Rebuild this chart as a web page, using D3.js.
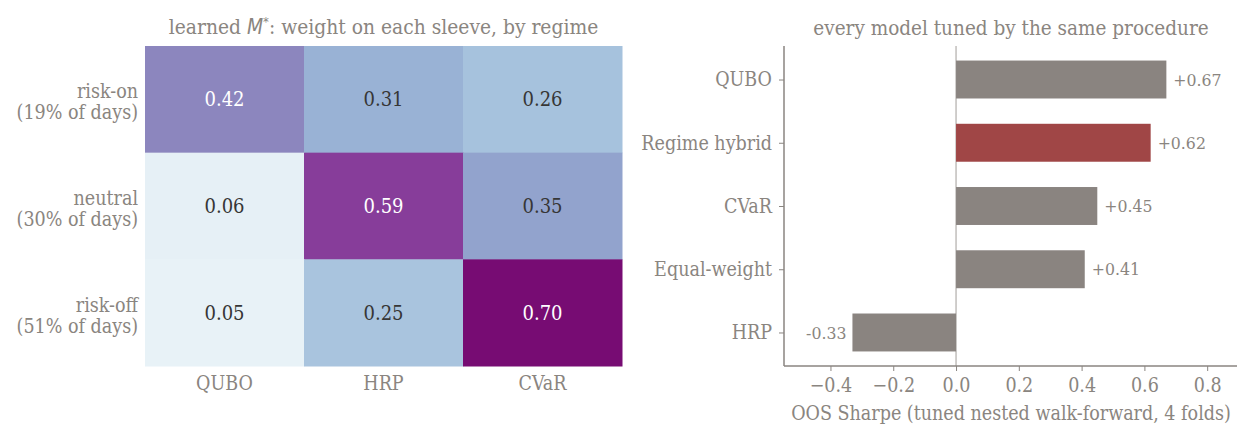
<!DOCTYPE html>
<html>
<head>
  <meta charset="utf-8">
  <style>
    body {
      margin: 0;
      padding: 0;
      background: #fff;
    }
    svg text { font-family: "DejaVu Serif Condensed", "DejaVu Serif", serif; font-stretch: condensed; }
  </style>
</head>
<body>
  <div id="chart"></div>

  <script src="https://cdnjs.cloudflare.com/ajax/libs/d3/7.8.5/d3.min.js"></script>
  <script>
    // heatmap data
    const regimes = ['risk-on', 'neutral', 'risk-off'];
    const regimeShare = ['19%', '30%', '51%'];
    const sleeves = ['QUBO', 'HRP', 'CVaR'];
    const weights = [
      [0.42, 0.31, 0.26],
      [0.06, 0.59, 0.35],
      [0.05, 0.25, 0.70]
    ];

    // bar chart data
    const models = ['QUBO', 'Regime hybrid', 'CVaR', 'Equal-weight', 'HRP'];
    const sharpe = [0.67, 0.62, 0.45, 0.41, -0.33];
    const xTicks = [-0.4, -0.2, 0.0, 0.2, 0.4, 0.6, 0.8];

    const grey = '#8a8580';
    const tickFont = '19.5px';
    const titleFont = '20.5px';
    const W = 1252, H = 437;

    const svg = d3.select('#chart')
      .append('svg')
      .attr('width', W)
      .attr('height', H);

    // ---- left panel: heatmap ----
    const hm = { left: 145, right: 622, top: 46, bottom: 366 };

    const xBand = d3.scaleBand()
      .domain(sleeves)
      .range([hm.left, hm.right]);

    const yBand = d3.scaleBand()
      .domain(regimes)
      .range([hm.top, hm.bottom]);

    // BuPu with straight segments between the colorbrewer stops
    const bupu = ['#f7fcfd', '#e0ecf4', '#bfd3e6', '#9ebcda', '#8c96c6',
                  '#8c6bb1', '#88419d', '#810f7c', '#4d004b'];
    const vmin = -0.013, vmax = 0.78;
    const color = d3.scaleLinear()
      .domain(bupu.map((c, i) => vmin + (vmax - vmin) * i / (bupu.length - 1)))
      .range(bupu)
      .interpolate(d3.interpolateRgb)
      .clamp(true);

    const cells = [];
    regimes.forEach((r, i) => sleeves.forEach((s, j) => {
      cells.push({ r, s, v: weights[i][j] });
    }));

    const left = svg.append('g');

    left.selectAll('rect.cell')
      .data(cells)
      .enter()
      .append('rect')
      .attr('class', 'cell')
      .attr('x', d => xBand(d.s))
      .attr('y', d => yBand(d.r))
      .attr('width', xBand.bandwidth() + 0.5)
      .attr('height', yBand.bandwidth() + 0.5)
      .attr('fill', d => color(d.v));

    left.selectAll('text.val')
      .data(cells)
      .enter()
      .append('text')
      .attr('class', 'val')
      .attr('x', d => xBand(d.s) + xBand.bandwidth() / 2)
      .attr('y', d => yBand(d.r) + yBand.bandwidth() / 2)
      .attr('dy', '0.35em')
      .attr('text-anchor', 'middle')
      .attr('font-size', '20px')
      .attr('fill', d => d.v > 0.4 ? '#ffffff' : '#363636')
      .text(d => d.v.toFixed(2));

    // column labels
    left.selectAll('text.col')
      .data(sleeves)
      .enter()
      .append('text')
      .attr('class', 'col')
      .attr('x', d => xBand(d) + xBand.bandwidth() / 2)
      .attr('y', hm.bottom + 24)
      .attr('text-anchor', 'middle')
      .attr('font-size', tickFont)
      .attr('fill', grey)
      .text(d => d);

    // row labels (two lines)
    const rowLab = left.selectAll('text.row')
      .data(regimes)
      .enter()
      .append('text')
      .attr('class', 'row')
      .attr('text-anchor', 'end')
      .attr('font-size', tickFont)
      .attr('fill', grey);

    rowLab.append('tspan')
      .attr('x', hm.left - 7)
      .attr('y', d => yBand(d) + yBand.bandwidth() / 2 - 1)
      .text(d => d);

    rowLab.append('tspan')
      .attr('x', hm.left - 7)
      .attr('y', d => yBand(d) + yBand.bandwidth() / 2 + 20)
      .text((d, i) => '(' + regimeShare[i] + ' of days)');

    const t1 = left.append('text')
      .attr('x', (hm.left + hm.right) / 2)
      .attr('y', 34)
      .attr('text-anchor', 'middle')
      .attr('font-size', '20.8px')
      .attr('fill', grey);
    t1.append('tspan').text('learned ');
    t1.append('tspan').attr('font-family', 'DejaVu Sans').attr('font-style', 'italic').text('M');
    t1.append('tspan').attr('font-family', 'DejaVu Sans').attr('font-size', '13px').attr('dy', '-8').text('*');
    t1.append('tspan').attr('dy', '8').text(': weight on each sleeve, by regime');

    // ---- right panel: bars ----
    const bp = { left: 784, right: 1237, top: 46, bottom: 366 };

    const x = d3.scaleLinear()
      .domain([-0.548, 0.895])
      .range([bp.left, bp.right]);

    // category positions 0..n-1 with matplotlib-like margins
    const y = d3.scaleLinear()
      .domain([-0.53, models.length - 1 + 0.53])
      .range([bp.top, bp.bottom]);

    const barH = y(0.3) - y(-0.3);

    const right = svg.append('g');

    // zero line
    right.append('line')
      .attr('x1', x(0)).attr('x2', x(0))
      .attr('y1', bp.top).attr('y2', bp.bottom)
      .attr('stroke', grey)
      .attr('stroke-width', 0.8);

    right.selectAll('rect.bar')
      .data(models)
      .enter()
      .append('rect')
      .attr('class', 'bar')
      .attr('x', (d, i) => x(Math.min(0, sharpe[i])))
      .attr('y', (d, i) => y(i) - barH / 2)
      .attr('width', (d, i) => Math.abs(x(sharpe[i]) - x(0)))
      .attr('height', barH)
      .attr('fill', d => d === 'Regime hybrid' ? '#a04646' : '#8a8480');

    right.selectAll('text.blab')
      .data(models)
      .enter()
      .append('text')
      .attr('class', 'blab')
      .attr('x', (d, i) => sharpe[i] >= 0 ? x(sharpe[i]) + 7 : x(sharpe[i]) - 6)
      .attr('y', (d, i) => y(i))
      .attr('dy', '0.35em')
      .attr('text-anchor', (d, i) => sharpe[i] >= 0 ? 'start' : 'end')
      .attr('font-size', '17.5px')
      .attr('fill', grey)
      .text((d, i) => (sharpe[i] >= 0 ? '+' : '-') + Math.abs(sharpe[i]).toFixed(2));

    // y axis
    const yAxis = right.append('g')
      .attr('transform', `translate(${bp.left},0)`)
      .call(d3.axisLeft(y)
        .tickValues(d3.range(models.length))
        .tickFormat(i => models[i])
        .tickSize(5)
        .tickPadding(7));

    // x axis
    const xAxis = right.append('g')
      .attr('transform', `translate(0,${bp.bottom})`)
      .call(d3.axisBottom(x)
        .tickValues(xTicks)
        .tickFormat(d => d3.format('.1f')(d).replace('-', '\u2212'))
        .tickSize(5)
        .tickPadding(7));

    [yAxis, xAxis].forEach(a => {
      a.select('.domain')
        .attr('stroke', grey)
        .attr('stroke-width', 1.5);
      a.selectAll('.tick line')
        .attr('stroke', grey)
        .attr('stroke-width', 1);
      a.selectAll('.tick text')
        .attr('fill', grey)
        .attr('font-size', tickFont)
        .attr('font-family', null);
    });
    // plain spines, no end caps
    yAxis.select('.domain').attr('d', `M0,${bp.top}V${bp.bottom}`);
    xAxis.select('.domain').attr('d', `M${bp.left},0H${bp.right}`);

    right.append('text')
      .attr('x', (bp.left + bp.right) / 2 + 0.5)
      .attr('y', 420)
      .attr('text-anchor', 'middle')
      .attr('font-size', tickFont)
      .attr('fill', grey)
      .text('OOS Sharpe (tuned nested walk-forward, 4 folds)');

    right.append('text')
      .attr('x', 1011)
      .attr('y', 35)
      .attr('text-anchor', 'middle')
      .attr('font-size', titleFont)
      .attr('fill', grey)
      .text('every model tuned by the same procedure');
  </script>
</body>
</html>
